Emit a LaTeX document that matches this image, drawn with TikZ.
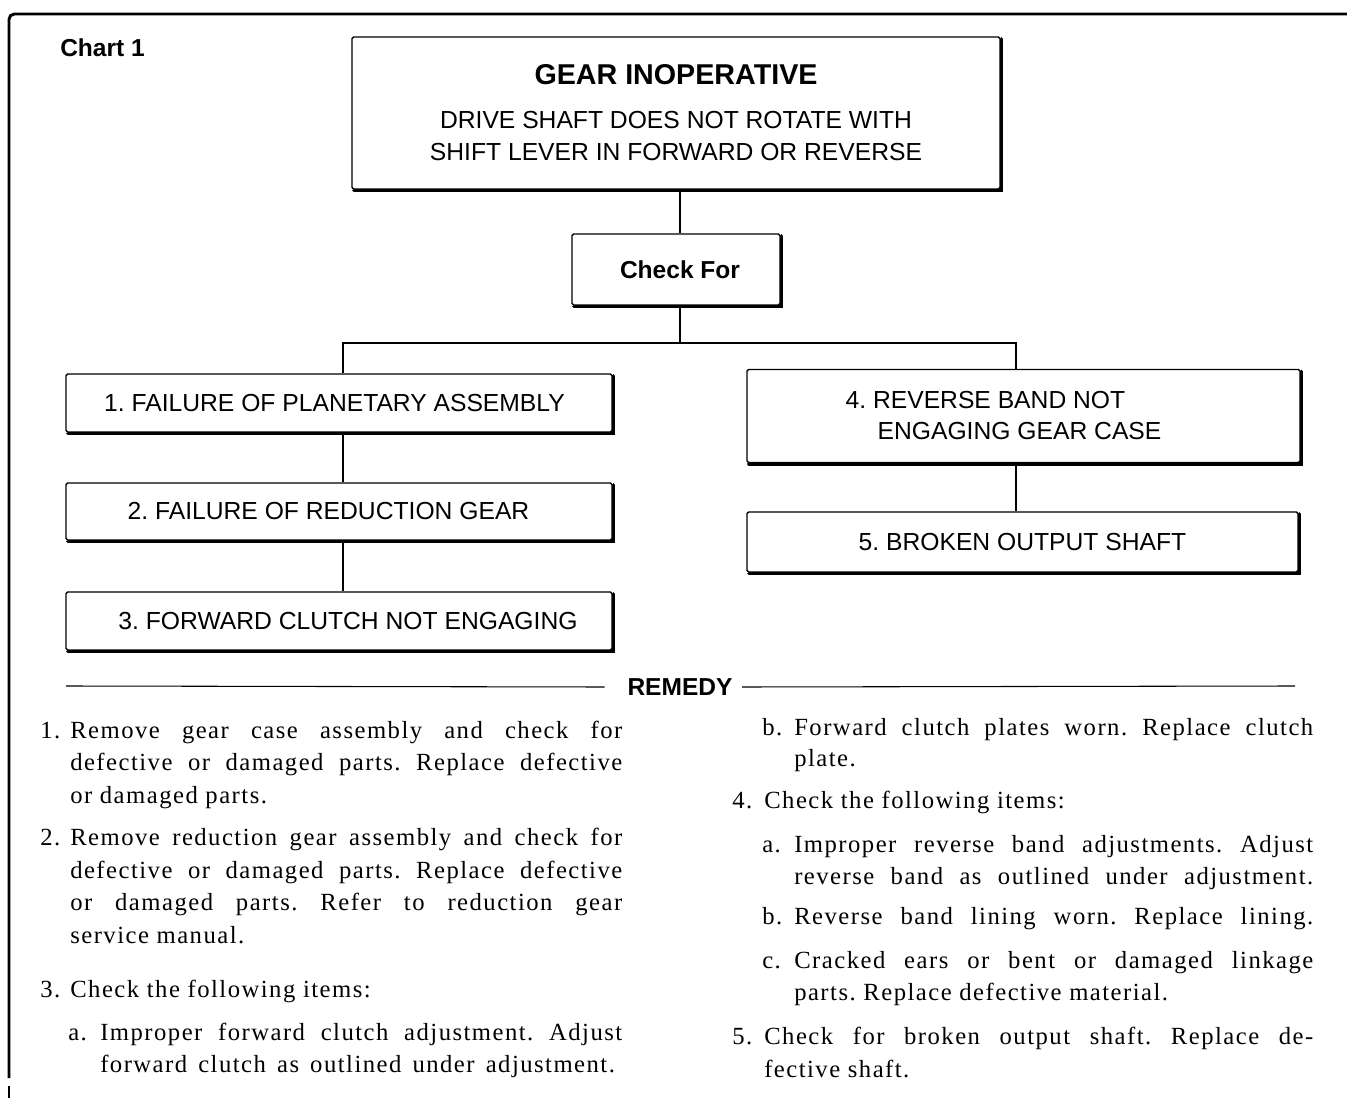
\documentclass[tikz,border=0pt]{standalone}
\usepackage{fontspec}
\setmainfont{Liberation Serif}[LetterSpace=6]
\newfontfamily\boxfont{Liberation Sans}
\newcommand\jst[2]{\makebox[#1][s]{#2}}
\newcommand\nm[1]{\makebox[22.5pt][l]{#1}}
\newcommand\sm[1]{\makebox[24pt][l]{#1}}
\frenchspacing
\begin{document}
\begin{tikzpicture}[x=0.75pt,y=-0.75pt,
  box/.style={draw, line width=1.1pt, rounded corners=1.2pt, inner sep=0pt,
    font=\boxfont\fontsize{18.5}{23.25}\selectfont, align=center},
  conn/.style={line width=1.8pt},
  lab/.style={inner sep=0pt, font=\boxfont\fontsize{18.4}{22}\selectfont\bfseries},
  txt/.style={anchor=base west, inner sep=0pt, font=\frenchspacing\fontsize{18.5}{22}\selectfont}]
\useasboundingbox (0,0) rectangle (1347,1098);
\fill[white] (0,0) rectangle (1347,1098);
% frame
\draw[line width=2.2pt, rounded corners=4pt] (9,1078) -- (9,14) -- (1347,14);
\draw[line width=2.2pt] (9,1086) -- (9,1098);
\node[lab, anchor=west] (chart) at (60,48) {Chart 1};
% boxes
\node[box, minimum width=486pt, minimum height=114pt,
  font=\boxfont\fontsize{18.5}{24}\selectfont] (top) at (676,113)
  {{\fontsize{21.5}{26}\selectfont\bfseries GEAR INOPERATIVE}\\[9pt]
   DRIVE SHAFT DOES NOT ROTATE WITH\\ SHIFT LEVER IN FORWARD OR REVERSE};
\node[box, minimum width=156pt, minimum height=53.25pt,
  font=\boxfont\fontsize{18.4}{22}\selectfont\bfseries] (check) at (676,269.5) {\hspace*{6pt}Check For};
\node[box, minimum width=409.5pt, minimum height=43.5pt] (b1) at (339,403)
  {1. FAILURE OF PLANETARY ASSEMBLY\hspace*{6.75pt}};
\node[box, minimum width=409.5pt, minimum height=42.75pt] (b2) at (339,511.5)
  {2. FAILURE OF REDUCTION GEAR\hspace*{15.75pt}};
\node[box, minimum width=409.5pt, minimum height=43.5pt] (b3) at (339,621)
  {\hspace*{13.5pt}3. FORWARD CLUTCH NOT ENGAGING};
\node[box, minimum width=414.75pt, minimum height=69.75pt, align=left] (b4) at (1023.5,416)
  {4. REVERSE BAND NOT\\\hspace*{24pt}ENGAGING GEAR CASE\hspace*{30pt}};
\node[box, minimum width=413.25pt, minimum height=45pt] (b5) at (1022.5,542)
  {5. BROKEN OUTPUT SHAFT};
\foreach \n in {top,check,b1,b2,b3,b4,b5}
  \draw[line width=2.6pt, line cap=round]
    ([xshift=2pt,yshift=-0.7pt]\n.south west) -- ([xshift=0.7pt,yshift=-0.7pt]\n.south east)
    -- ([xshift=0.7pt,yshift=-2pt]\n.north east);
% connectors
\coordinate (j) at (680,343);
\coordinate (jl) at (343,343);
\coordinate (jr) at (1016,343);
\draw[conn] (top.south -| j) -- (check.north -| j);
\draw[conn] (check.south -| j) -- (j);
\draw[conn] (b1.north -| jl) -- (jl) -- (jr) -- (b4.north -| jr);
\draw[conn] (b1.south -| jl) -- (b2.north -| jl);
\draw[conn] (b2.south -| jl) -- (b3.north -| jl);
\draw[conn] (b4.south -| jr) -- (b5.north -| jr);
% remedy
\node[lab] (rem) at (680,687) {REMEDY};
\coordinate (rl) at (66,686);
\coordinate (rr) at (1295,686);
\draw[line width=0.8pt] (rl) -- ([xshift=-17pt]rem.west);
\draw[line width=0.8pt] ([xshift=7pt]rem.east) -- (rr);
% left column
\node[txt] (l1) at (40,738) {\nm{1.}\jst{414pt}{Remove gear case assembly and check for}};
\node[txt] (l2) at (70,770) {\jst{414pt}{defective or damaged parts. Replace defective}};
\node[txt] (l3) at (70,803) {or damaged parts.};
\node[txt] (l4) at (40,845) {\nm{2.}\jst{414pt}{Remove reduction gear assembly and check for}};
\node[txt] (l5) at (70,878) {\jst{414pt}{defective or damaged parts. Replace defective}};
\node[txt] (l6) at (70,910) {\jst{414pt}{or damaged parts. Refer to reduction gear}};
\node[txt] (l7) at (70,943) {service manual.};
\node[txt] (l8) at (40,997) {\nm{3.}Check the following items:};
\node[txt] (l9) at (68,1040) {\sm{a.}\jst{391.5pt}{Improper forward clutch adjustment. Adjust}};
\node[txt] (l10) at (100,1072) {\jst{386pt}{forward clutch as outlined under adjustment.}};
% right column
\node[txt] (r1) at (762,735) {\sm{b.}\jst{389.25pt}{Forward clutch plates worn. Replace clutch}};
\node[txt] (r2) at (794,766) {plate.};
\node[txt] (r3) at (732,808) {\sm{4.}Check the following items:};
\node[txt] (r4) at (762,852) {\sm{a.}\jst{389.25pt}{Improper reverse band adjustments. Adjust}};
\node[txt] (r5) at (794,884) {\jst{389.25pt}{reverse band as outlined under adjustment.}};
\node[txt] (r6) at (762,924) {\sm{b.}\jst{389.25pt}{Reverse band lining worn. Replace lining.}};
\node[txt] (r7) at (762,968) {\sm{c.}\jst{389.25pt}{Cracked ears or bent or damaged linkage}};
\node[txt] (r8) at (794,1000) {parts. Replace defective material.};
\node[txt] (r9) at (732,1044) {\sm{5.}\jst{411.75pt}{Check for broken output shaft. Replace de-}};
\node[txt] (r10) at (764,1077) {fective shaft.};
\end{tikzpicture}
\end{document}
